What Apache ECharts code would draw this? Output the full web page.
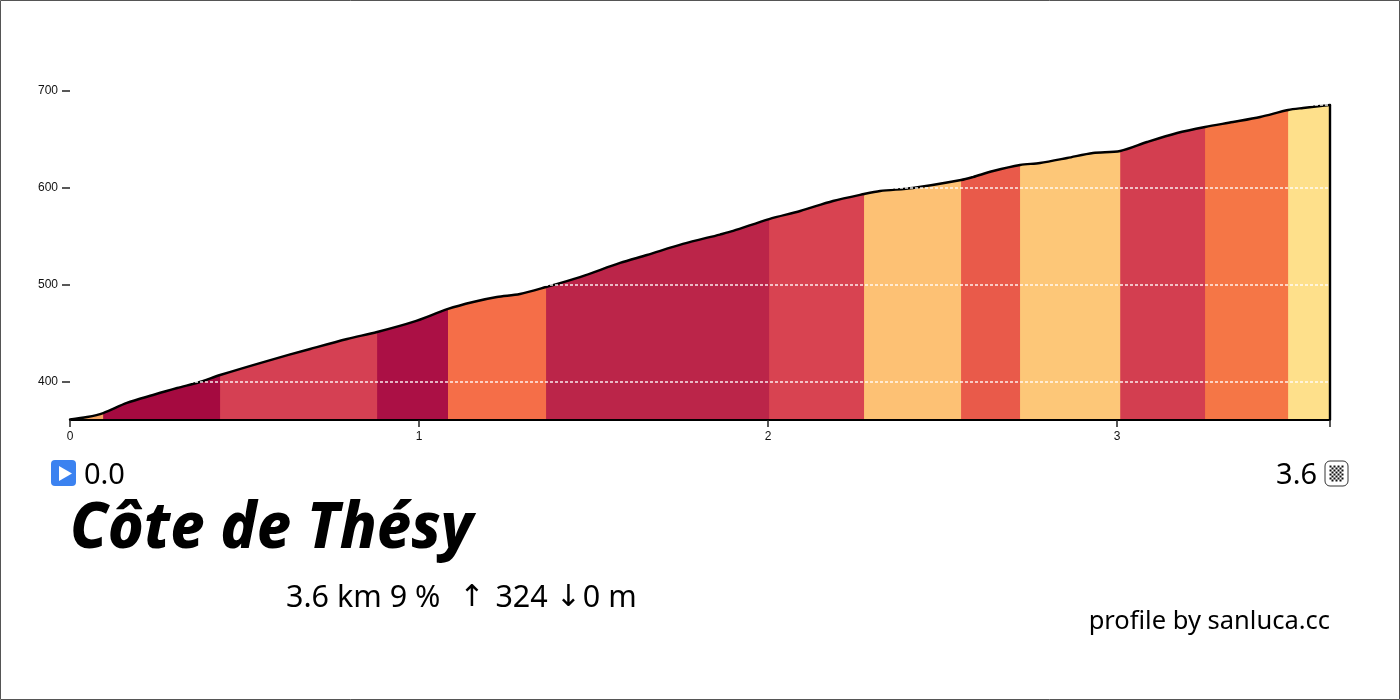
<!DOCTYPE html>
<html>
<head>
<meta charset="utf-8">
<style>html,body{margin:0;padding:0;background:#fff}#c{width:1400px;height:700px}</style>
<script src="https://cdn.jsdelivr.net/npm/echarts@6/dist/echarts.min.js"></script>
</head>
<body>
<div id="c"></div>
<script>
const profileKm = [0,0.049,0.095,0.163,0.238,0.307,0.372,0.43,0.564,0.688,0.794,0.88,0.983,1.083,1.155,1.223,1.289,1.364,1.461,1.576,1.653,1.756,1.862,1.9,2.003,2.092,2.186,2.275,2.321,2.415,2.553,2.587,2.645,2.722,2.779,2.857,2.931,3.009,3.086,3.172,3.252,3.332,3.41,3.49,3.533,3.582,3.61];
const profileElev = [361.3,363.9,368,378.4,386.6,393.8,400,407.2,421.6,434,444.3,451.5,461.9,475.3,482.5,487.6,490.7,497.9,508.2,522.7,530.9,542.3,552,555.7,568,576.3,586.6,593.8,596.9,600,608.2,611.3,617.5,623.7,625.8,630.9,636.1,638.1,647.4,656.7,662.9,668,673.2,680.4,682.5,684.5,685.6];
const segmentStarts = [0,0.095,0.43,0.88,1.083,1.364,2.003,2.275,2.553,2.722,3.009,3.252,3.49];
const segmentColors = ['#f4a261','#a50a40','#d54053','#ab1045','#f56e48','#bb2549','#d84351','#fdc174','#e95a4a','#fdc778','#d33e50','#f57646','#fee08b'];
const yTicks = [400,500,600,700];
const xLabels = [0,1,2,3];
const xTicks = [0,1,2,3,3.61];
const dashLevels = [400,500,600,685.6];
const yMin = 360.8, yMax = 700, xMax = 3.61;

const pts = profileKm.map((k,i)=>[k,profileElev[i]]);
const series = [];
segmentStarts.forEach((start,i)=>{
  series.push({type:'line',name:'segment '+i,data:pts.filter(p=>p[0]>=start),symbol:'none',silent:true,
    lineStyle:{width:0},areaStyle:{color:segmentColors[i],opacity:1,origin:'start'},z:2});
});
series.push({type:'line',name:'profile',data:pts,symbol:'none',clip:false,silent:true,smooth:0.3,
  lineStyle:{color:'#000',width:2.4,cap:'round',join:'round'},z:3});
series.push({type:'line',name:'finish',data:[[xMax,profileElev[profileElev.length-1]],[xMax,yMin]],symbol:'none',clip:false,silent:true,
  lineStyle:{color:'#000',width:2.4},z:3});
dashLevels.forEach(v=>{
  series.push({type:'line',name:'level '+v,data:[[0,v],[xMax,v]],symbol:'none',silent:true,clip:false,
    lineStyle:{color:'rgba(255,255,255,0.9)',width:1.5,type:[3,2]},z:4});
});

const textFont = '"Noto Sans"';
const graphic = [
 {type:'rect',silent:true,shape:{x:0.5,y:0.5,width:1399,height:699},style:{fill:'none',stroke:'#555',lineWidth:1},z:0},
 {type:'rect',shape:{x:51,y:460,width:25,height:26,r:4},style:{fill:'#3b82f0'}},
 {type:'polygon',shape:{points:[[59,466],[59,481],[72,473.5]]},style:{fill:'#fff'}},
 {type:'text',x:84,y:476,style:{text:'0.0',font:'29px '+textFont,fill:'#000',textVerticalAlign:'middle'}},
 {type:'text',x:1317,y:476,style:{text:'3.6',font:'29px '+textFont,fill:'#000',textAlign:'right',textVerticalAlign:'middle'}},
 {type:'rect',shape:{x:1325,y:461,width:23,height:25,r:5},style:{fill:'#fff',stroke:'#333',lineWidth:1}},
 {type:'text',x:70,y:530,scaleX:0.948,style:{text:'Côte de Thésy',font:'italic 800 64px '+textFont,fill:'#000',textVerticalAlign:'middle'}},
 {type:'text',x:286,y:598,style:{text:'{a|3.6 km 9 %  }{b|↑}{a| 324 }{c|↓}{a|0 m}',textVerticalAlign:'middle',
   rich:{a:{font:'30.5px '+textFont,fill:'#000'},
         b:{font:'30px "DejaVu Sans"',fill:'#000',padding:[0,3,0,3]},
         c:{font:'30px "DejaVu Sans"',fill:'#000',padding:[0,2,0,0]}}}},
 {type:'text',x:1330,y:622,style:{text:'profile by sanluca.cc',font:'25.5px '+textFont,fill:'#000',textAlign:'right',textVerticalAlign:'middle'}}
];
for(let r=0;r<8;r++)for(let c=0;c<7;c++){ if((r+c)%2===0) graphic.push({type:'rect',shape:{x:1329.5+c*2,y:465.5+r*2,width:2,height:2},style:{fill:'#111'}}); }

const chart = echarts.init(document.getElementById('c'),null,{renderer:'canvas'});
chart.setOption({
  animation:false,backgroundColor:'#fff',
  grid:{left:70,right:70,top:91,height:329,containLabel:false},
  xAxis:{type:'value',min:0,max:xMax,z:5,
    axisLine:{show:true,onZero:false,lineStyle:{color:'#000',width:2}},
    axisTick:{show:true,length:7,customValues:xTicks,lineStyle:{color:'#222',width:1.5}},
    axisLabel:{customValues:xLabels,margin:11,fontSize:12,color:'#111',fontFamily:'"Liberation Sans"',formatter:v=>String(v)},
    splitLine:{show:false}},
  yAxis:{type:'value',min:yMin,max:yMax,
    axisLine:{show:false},
    axisTick:{show:true,length:8,customValues:yTicks,lineStyle:{color:'#222',width:1.5}},
    axisLabel:{customValues:yTicks,margin:12,fontSize:12,color:'#111',fontFamily:'"Liberation Sans"',formatter:v=>String(v)},
    splitLine:{show:false}},
  series, graphic
});
</script>
</body>
</html>
